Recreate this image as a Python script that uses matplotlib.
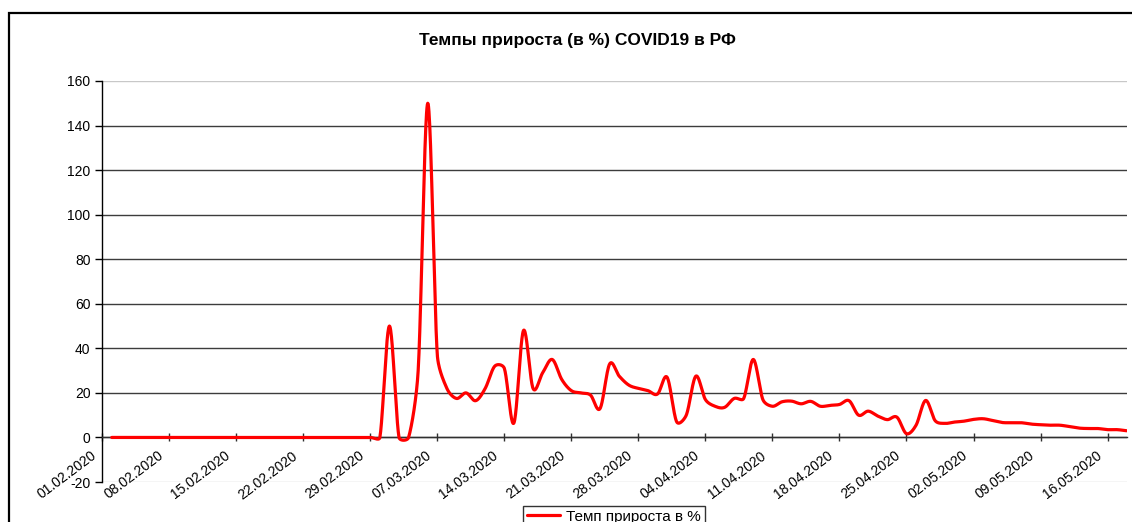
import numpy as np
import pandas as pd
import matplotlib
matplotlib.use('Agg')
import matplotlib.pyplot as plt
from matplotlib.patches import Rectangle
from matplotlib.transforms import ScaledTranslation

plt.rcParams['font.family'] = ['Liberation Sans', 'DejaVu Sans']

# ---------------- data ----------------
title = 'Темпы прироста (в %) COVID19 в РФ'
series_name = 'Темп прироста в %'
first_axis_date = '2020-02-01'   # left edge of the date axis
first_data_date = '2020-02-02'

growth_pct = [
    0, 0, 0, 0, 0, 0, 0, 0, 0, 0,
    0, 0, 0, 0, 0, 0, 0, 0, 0, 0,
    0, 0, 0, 0, 0, 0, 0, 0, 0,
    50, 0, 0, 30, 150, 37, 22, 17.5, 20, 16.5,
    22, 32, 31, 6.5, 48, 22, 29, 35, 26, 21,
    20, 19, 13, 33, 27.5, 23.5, 22, 21, 19.5, 27,
    7, 10, 27.5, 17, 14, 13.5, 17.5, 17.5, 35, 17,
    14, 16, 16.3, 15.1, 16.2, 14, 14.4, 14.8, 16.5, 10,
    11.8, 9.6, 8, 9.1, 1.7, 5.5, 16.6, 7.5, 6.3, 6.9,
    7.3, 8.1, 8.4, 7.6, 6.7, 6.6, 6.6, 6.0, 5.7, 5.5,
    5.5, 4.9, 4.2, 4.0, 4.0, 3.5, 3.5, 3.0,
]

tick_labels = ['01.02.2020', '08.02.2020', '15.02.2020', '22.02.2020',
               '29.02.2020', '07.03.2020', '14.03.2020', '21.03.2020',
               '28.03.2020', '04.04.2020', '11.04.2020', '18.04.2020',
               '25.04.2020', '02.05.2020', '09.05.2020', '16.05.2020']

y_ticks = [-20, 0, 20, 40, 60, 80, 100, 120, 140, 160]

# ---------------- helpers ----------------
dates = pd.date_range(first_data_date, periods=len(growth_pct), freq='D')
day_pos = (dates - pd.Timestamp(first_axis_date)).days.values.astype(float)
tick_dates = pd.to_datetime(tick_labels, format='%d.%m.%Y')
tick_pos = (tick_dates - pd.Timestamp(first_axis_date)).days.values.astype(float)


def excel_smooth(ax, x, y, n=24, frac=0.4):
    """Excel-like smoothed line: Catmull-Rom Bezier computed in display
    space, with control arms limited relative to the segment length."""
    P = ax.transData.transform(np.column_stack([x, y]).astype(float))
    m = len(P)
    t = np.linspace(0, 1, n, endpoint=False)[:, None]
    out = []
    for i in range(m - 1):
        a = i - 1 if i > 0 else i
        d = i + 2 if i + 2 < m else i + 1
        p0, p3 = P[i], P[i + 1]
        seg = np.hypot(*(p3 - p0))
        v1 = (P[i + 1] - P[a]) / 6.0
        v2 = (P[d] - P[i]) / 6.0
        for v in (v1, v2):
            L = np.hypot(*v)
            lim = frac * seg
            if L > lim and L > 0:
                v *= lim / L
        p1 = p0 + v1
        p2 = p3 - v2
        b = (1 - t) ** 3 * p0 + 3 * (1 - t) ** 2 * t * p1 \
            + 3 * (1 - t) * t ** 2 * p2 + t ** 3 * p3
        out.append(b)
    out.append(P[-1:])
    pts = ax.transData.inverted().transform(np.vstack(out))
    return pts[:, 0], pts[:, 1]


# ---------------- figure ----------------
W, H, DPI = 1132, 522, 100
fig = plt.figure(figsize=(W / DPI, H / DPI), dpi=DPI)
fig.patch.set_facecolor('white')

# outer chart border (continues beyond the image at right and bottom)
fig.patches.append(Rectangle((9 / W, -0.2), 1.5, 1 - 13 / H + 0.2,
                             transform=fig.transFigure, fill=False,
                             edgecolor='black', linewidth=1.6, zorder=0))

fig.text(577 / W, 1 - 41 / H, title, ha='center', va='center',
         fontsize=12.5, fontweight='bold')

ax = fig.add_axes([102.2 / W, 1 - 482 / H, (1126.7 - 102.2) / W, (482 - 81) / H])
ax.set_facecolor('white')
ax.set_xlim(0, 107)
ax.set_ylim(-20, 160)

sx, sy = excel_smooth(ax, day_pos, growth_pct)
line, = ax.plot(sx, sy, color='#ff0000', linewidth=2.3, solid_capstyle='round',
                solid_joinstyle='round', label=series_name, zorder=3)

ax.set_yticks(y_ticks)
ax.set_yticklabels([str(v) for v in y_ticks])

ax.set_axisbelow(True)
ax.yaxis.grid(True, color='#3c3c3c', linewidth=1.0)
ax.xaxis.grid(False)
glines = ax.get_ygridlines()
glines[0].set_color('#cfcfcf')
glines[-1].set_color('#c8c8c8')

for s in ['top', 'right']:
    ax.spines[s].set_visible(False)
ax.spines['left'].set_color('black')
ax.spines['left'].set_linewidth(1.0)
ax.spines['bottom'].set_position(('data', 0))
ax.spines['bottom'].set_color('#303030')
ax.spines['bottom'].set_linewidth(1.0)

ax.tick_params(axis='y', direction='out', length=5, width=1, pad=3.5,
               labelsize=10, colors='black')
ax.set_xticks(tick_pos)
ax.set_xticklabels(tick_labels, rotation=37, ha='right', va='top',
                   rotation_mode='anchor', fontsize=10)
ax.tick_params(axis='x', direction='inout', length=6, width=1, pad=5,
               colors='#303030', labelcolor='black')
offset = ScaledTranslation(-12 / DPI, 0, fig.dpi_scale_trans)
for lab in ax.get_xticklabels():
    lab.set_transform(lab.get_transform() + offset)

leg = fig.legend(handles=[line], labels=[series_name], loc='upper center',
                 bbox_to_anchor=(614 / W, 1 - 506 / H), frameon=True,
                 fancybox=False, edgecolor='black', fontsize=11,
                 handlelength=2.2, handletextpad=0.4, borderpad=0.25,
                 borderaxespad=0)
leg.get_frame().set_linewidth(1.0)

fig.savefig('out.png', dpi=DPI, facecolor='white')
